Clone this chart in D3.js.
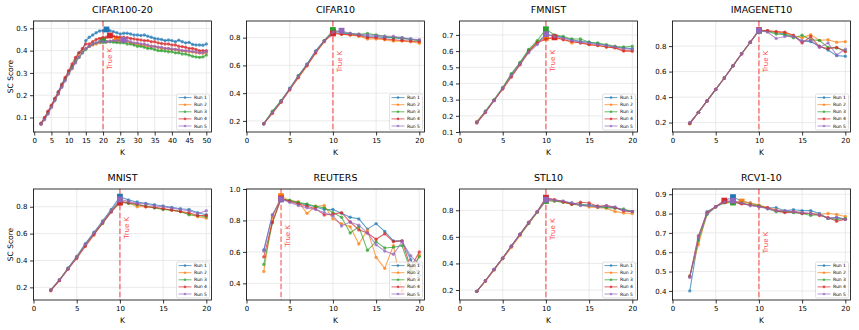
<!DOCTYPE html>
<html><head><meta charset="utf-8">
<script src="https://cdn.jsdelivr.net/npm/d3@7"></script>
<style>
body{margin:0;background:#fff}
svg{display:block}
text{font-family:"DejaVu Sans",sans-serif}
</style>
</head><body>
<svg id="chart" width="859" height="330"></svg>
<script>
// ---------- data ----------
const datasets = ["CIFAR100-20","CIFAR10","FMNIST","IMAGENET10","MNIST","REUTERS","STL10","RCV1-10"];
const trueK = [20,10,10,10,10,4,10,10];
const runLabels = ["Run 1","Run 2","Run 3","Run 4","Run 5"];
const kLarge = d3.range(2,51);   // K = 2..50
const kSmall = d3.range(2,21);   // K = 2..20

const cifar100Runs = [
 [0.073,0.097,0.125,0.152,0.185,0.215,0.25,0.275,0.305,0.33,0.36,0.39,0.40,0.445,0.46,0.47,0.48,0.488,0.49,0.495,0.49,0.485,0.48,0.475,0.478,0.478,0.475,0.47,0.47,0.468,0.47,0.465,0.46,0.455,0.452,0.45,0.445,0.448,0.445,0.44,0.447,0.44,0.435,0.437,0.428,0.425,0.425,0.424,0.43],
 [0.07,0.095,0.12,0.148,0.18,0.205,0.24,0.27,0.30,0.32,0.35,0.375,0.395,0.41,0.42,0.425,0.43,0.435,0.44,0.44,0.442,0.445,0.45,0.445,0.44,0.44,0.435,0.43,0.43,0.425,0.425,0.42,0.42,0.418,0.415,0.41,0.41,0.408,0.405,0.405,0.40,0.40,0.398,0.395,0.395,0.39,0.39,0.388,0.39],
 [0.072,0.093,0.12,0.15,0.18,0.21,0.24,0.27,0.30,0.325,0.35,0.37,0.39,0.405,0.42,0.43,0.435,0.44,0.445,0.44,0.44,0.438,0.436,0.435,0.435,0.43,0.43,0.425,0.42,0.42,0.415,0.41,0.41,0.405,0.40,0.40,0.398,0.395,0.395,0.39,0.39,0.385,0.385,0.38,0.375,0.372,0.37,0.372,0.38],
 [0.074,0.10,0.128,0.155,0.185,0.215,0.245,0.28,0.31,0.34,0.37,0.39,0.41,0.43,0.43,0.44,0.45,0.455,0.46,0.46,0.468,0.465,0.462,0.46,0.46,0.458,0.455,0.452,0.45,0.448,0.445,0.445,0.44,0.44,0.435,0.432,0.43,0.43,0.425,0.425,0.42,0.418,0.415,0.41,0.41,0.405,0.40,0.40,0.40],
 [0.07,0.09,0.115,0.145,0.175,0.205,0.235,0.265,0.295,0.32,0.345,0.37,0.39,0.41,0.42,0.43,0.435,0.44,0.44,0.44,0.442,0.445,0.445,0.447,0.448,0.445,0.44,0.435,0.435,0.43,0.43,0.425,0.42,0.42,0.415,0.415,0.41,0.41,0.408,0.405,0.405,0.40,0.40,0.398,0.395,0.395,0.39,0.392,0.395]
];
const cifar10Runs = [
 [0.18,0.265,0.345,0.435,0.525,0.61,0.705,0.78,0.84,0.83,0.83,0.82,0.81,0.81,0.80,0.80,0.79,0.79,0.78],
 [0.18,0.255,0.335,0.425,0.51,0.595,0.69,0.77,0.835,0.825,0.82,0.81,0.79,0.79,0.785,0.775,0.775,0.77,0.76],
 [0.18,0.27,0.345,0.43,0.525,0.605,0.70,0.775,0.855,0.84,0.83,0.825,0.83,0.82,0.81,0.80,0.80,0.785,0.78],
 [0.18,0.255,0.335,0.425,0.515,0.60,0.69,0.775,0.83,0.825,0.82,0.815,0.80,0.80,0.79,0.785,0.78,0.775,0.77],
 [0.18,0.26,0.34,0.43,0.52,0.605,0.70,0.775,0.84,0.85,0.83,0.825,0.82,0.815,0.81,0.81,0.80,0.79,0.785]
];
const fmnistRuns = [
 [0.16,0.225,0.295,0.37,0.455,0.525,0.605,0.655,0.70,0.695,0.685,0.67,0.66,0.655,0.645,0.635,0.625,0.62,0.615],
 [0.165,0.225,0.295,0.37,0.445,0.52,0.60,0.655,0.682,0.678,0.675,0.65,0.655,0.64,0.635,0.625,0.62,0.605,0.60],
 [0.16,0.23,0.30,0.375,0.46,0.53,0.61,0.665,0.735,0.70,0.69,0.675,0.675,0.655,0.65,0.64,0.63,0.625,0.63],
 [0.155,0.22,0.295,0.365,0.44,0.515,0.595,0.65,0.675,0.685,0.67,0.66,0.65,0.64,0.635,0.625,0.62,0.60,0.60],
 [0.16,0.225,0.295,0.37,0.45,0.52,0.59,0.64,0.705,0.69,0.68,0.665,0.655,0.65,0.64,0.635,0.625,0.615,0.61]
];
const imagenet10Runs = [
 [0.195,0.28,0.37,0.46,0.55,0.645,0.74,0.83,0.922,0.918,0.905,0.895,0.875,0.84,0.835,0.80,0.77,0.725,0.72],
 [0.195,0.28,0.37,0.46,0.55,0.645,0.74,0.83,0.924,0.92,0.91,0.905,0.88,0.865,0.89,0.845,0.85,0.83,0.835],
 [0.195,0.28,0.37,0.46,0.55,0.645,0.74,0.83,0.921,0.915,0.895,0.89,0.865,0.885,0.85,0.845,0.79,0.785,0.765],
 [0.19,0.28,0.37,0.46,0.55,0.645,0.74,0.83,0.925,0.92,0.915,0.91,0.885,0.825,0.875,0.795,0.78,0.79,0.755],
 [0.20,0.28,0.37,0.46,0.55,0.645,0.74,0.83,0.923,0.91,0.86,0.875,0.875,0.84,0.845,0.79,0.825,0.73,0.775]
];
const mnistRuns = [
 [0.18,0.255,0.345,0.43,0.525,0.61,0.695,0.78,0.875,0.85,0.835,0.825,0.815,0.805,0.795,0.785,0.78,0.755,0.74],
 [0.18,0.255,0.34,0.425,0.515,0.60,0.685,0.77,0.845,0.83,0.80,0.80,0.795,0.785,0.775,0.765,0.745,0.725,0.715],
 [0.18,0.255,0.34,0.425,0.515,0.60,0.675,0.765,0.84,0.825,0.815,0.805,0.79,0.78,0.775,0.765,0.74,0.735,0.725],
 [0.175,0.25,0.335,0.415,0.505,0.59,0.68,0.76,0.83,0.83,0.82,0.80,0.795,0.785,0.775,0.765,0.755,0.735,0.735],
 [0.18,0.255,0.34,0.425,0.52,0.605,0.685,0.77,0.855,0.84,0.825,0.82,0.805,0.80,0.79,0.78,0.77,0.75,0.77]
];
const reutersRuns = [
 [0.612,0.835,0.935,0.925,0.91,0.90,0.885,0.87,0.87,0.845,0.82,0.81,0.745,0.78,0.73,0.67,0.67,0.55,0.45],
 [0.475,0.82,0.955,0.925,0.92,0.845,0.89,0.895,0.81,0.78,0.76,0.65,0.74,0.565,0.495,0.64,0.35,0.45,0.58],
 [0.52,0.785,0.935,0.928,0.915,0.905,0.89,0.88,0.85,0.82,0.72,0.76,0.61,0.665,0.625,0.63,0.64,0.48,0.57],
 [0.568,0.79,0.94,0.92,0.905,0.89,0.875,0.835,0.84,0.85,0.79,0.74,0.72,0.68,0.715,0.665,0.67,0.50,0.60],
 [0.606,0.835,0.935,0.915,0.895,0.88,0.87,0.85,0.83,0.765,0.79,0.77,0.72,0.645,0.605,0.585,0.665,0.575,0.52]
];
const stl10Runs = [
 [0.19,0.27,0.355,0.44,0.53,0.62,0.705,0.79,0.885,0.875,0.865,0.855,0.845,0.84,0.83,0.825,0.82,0.80,0.79],
 [0.19,0.265,0.35,0.435,0.52,0.61,0.70,0.785,0.875,0.87,0.86,0.845,0.84,0.825,0.82,0.815,0.79,0.78,0.775],
 [0.19,0.27,0.355,0.44,0.53,0.615,0.70,0.785,0.87,0.87,0.86,0.845,0.84,0.835,0.825,0.82,0.815,0.81,0.79],
 [0.19,0.27,0.355,0.44,0.53,0.62,0.71,0.79,0.895,0.88,0.865,0.845,0.86,0.855,0.83,0.835,0.82,0.795,0.79],
 [0.19,0.27,0.355,0.44,0.53,0.62,0.705,0.79,0.88,0.875,0.87,0.855,0.835,0.835,0.825,0.835,0.825,0.80,0.79]
];
const rcv1Runs = [
 [0.40,0.67,0.81,0.835,0.865,0.885,0.865,0.855,0.84,0.83,0.83,0.815,0.82,0.815,0.815,0.80,0.775,0.78,0.77],
 [0.478,0.64,0.80,0.835,0.86,0.858,0.862,0.855,0.845,0.83,0.82,0.81,0.81,0.805,0.80,0.795,0.80,0.795,0.785],
 [0.475,0.66,0.795,0.835,0.855,0.857,0.855,0.845,0.84,0.825,0.81,0.81,0.805,0.80,0.79,0.795,0.775,0.77,0.775],
 [0.474,0.685,0.805,0.835,0.867,0.86,0.85,0.845,0.835,0.83,0.815,0.805,0.81,0.80,0.80,0.79,0.78,0.76,0.77],
 [0.469,0.68,0.80,0.835,0.86,0.867,0.855,0.84,0.835,0.825,0.815,0.815,0.81,0.805,0.80,0.795,0.775,0.78,0.77]
];
const allRuns = [cifar100Runs,cifar10Runs,fmnistRuns,imagenet10Runs,mnistRuns,reutersRuns,stl10Runs,rcv1Runs];
const kValues = [kLarge,kSmall,kSmall,kSmall,kSmall,kSmall,kSmall,kSmall];

// axis ranges and tick labels
const yRanges = [[0.035,0.533],[0.12,0.92],[0.1,0.786],[0.126,0.997],[0.106,0.932],[0.294,1.0],[0.125,0.96],[0.353,0.927]];
const yTickValues = [
 [0.1,0.2,0.3,0.4,0.5],[0.2,0.4,0.6,0.8],[0.1,0.2,0.3,0.4,0.5,0.6,0.7],[0.2,0.4,0.6,0.8],
 [0.2,0.4,0.6,0.8],[0.4,0.6,0.8,1.0],[0.2,0.4,0.6,0.8],[0.4,0.5,0.6,0.7,0.8,0.9]
];
const xTicksLarge = [0,5,10,15,20,25,30,35,40,45,50];
const xTicksSmall = [0,5,10,15,20];

// ---------- style / layout ----------
const runColors = ["#1f77b4","#ff7f0e","#2ca02c","#d62728","#9467bd"];
const W = 178, H = 111;
const colLeft = c => 33.5 + c*213;
const rowTop = r => [21,189][r];

const svg = d3.select("#chart");
svg.append("rect").attr("width",859).attr("height",330).attr("fill","#fff");

datasets.forEach((name,i) => {
  const col = i%4, row = Math.floor(i/4);
  const x0 = colLeft(col), y0 = rowTop(row);
  const ks = kValues[i], runs = allRuns[i];
  const kMax = d3.max(ks);
  const xs = d3.scaleLinear().domain([i===0 ? -0.2 : 0, kMax*1.03]).range([0,W]);
  const ys = d3.scaleLinear().domain(yRanges[i]).range([H,0]);
  const xt = i===0 ? xTicksLarge : xTicksSmall;
  const yt = yTickValues[i];

  const g = svg.append("g").attr("transform",`translate(${x0},${y0})`);
  const clipId = "clip"+i;
  g.append("clipPath").attr("id",clipId).append("rect").attr("width",W).attr("height",H);

  // grid
  const grid = g.append("g");
  grid.selectAll("line.gx").data(xt).join("line")
    .attr("x1",d=>xs(d)).attr("x2",d=>xs(d)).attr("y1",0).attr("y2",H)
    .attr("stroke","#e4e4e4").attr("stroke-width",0.8);
  grid.selectAll("line.gy").data(yt).join("line")
    .attr("x1",0).attr("x2",W).attr("y1",d=>ys(d)).attr("y2",d=>ys(d))
    .attr("stroke","#e4e4e4").attr("stroke-width",0.8);

  // true K line
  g.append("line")
    .attr("x1",xs(trueK[i])).attr("x2",xs(trueK[i])).attr("y1",0).attr("y2",H)
    .attr("stroke","#ff0000").attr("stroke-opacity",0.5).attr("stroke-width",1.5)
    .attr("stroke-dasharray","5.5,2.4");

  const plot = g.append("g").attr("clip-path",`url(#${clipId})`);
  const line = d3.line().x((d,j)=>xs(ks[j])).y(d=>ys(d));
  runs.forEach((vals,r) => {
    const rg = plot.append("g");
    rg.append("path").datum(vals).attr("d",line)
      .attr("fill","none").attr("stroke",runColors[r]).attr("stroke-width",1.1)
      .attr("stroke-opacity",0.7);
    rg.selectAll("circle").data(vals).join("circle")
      .attr("cx",(d,j)=>xs(ks[j])).attr("cy",d=>ys(d)).attr("r",1.7)
      .attr("fill",runColors[r]).attr("fill-opacity",0.7);
    const mi = d3.maxIndex(vals);
    const s = 5.8;
    rg.append("rect")
      .attr("x",xs(ks[mi])-s/2).attr("y",ys(vals[mi])-s/2)
      .attr("width",s).attr("height",s).attr("fill",runColors[r]);
  });

  // True K label
  const allMax = d3.max(runs, v=>d3.max(v));
  const ty = ys(0.735*allMax);
  g.append("text")
    .attr("transform",`translate(${xs(trueK[i])+9},${ty}) rotate(-90)`)
    .attr("text-anchor","middle").attr("font-size",7).attr("fill","#ff0000")
    .attr("fill-opacity",0.75)
    .text("True K");

  // axes
  const ax = g.append("g").attr("transform",`translate(0,${H})`)
    .call(d3.axisBottom(xs).tickValues(xt).tickFormat(d3.format("d")).tickSize(3.5).tickPadding(2.5));
  const ay = g.append("g")
    .call(d3.axisLeft(ys).tickValues(yt).tickFormat(d3.format(".1f")).tickSize(3.5).tickPadding(2.5));
  [ax,ay].forEach(a=>{
    a.select(".domain").remove();
    a.selectAll(".tick line").attr("stroke","#000").attr("stroke-width",0.8);
    a.selectAll(".tick text").attr("font-size",7).attr("fill","#000")
      .attr("font-family","DejaVu Sans, sans-serif");
  });

  // spines
  g.append("rect").attr("width",W).attr("height",H)
    .attr("fill","none").attr("stroke","#000").attr("stroke-width",0.8);

  // title
  g.append("text").attr("x",W/2).attr("y",-7.6).attr("text-anchor","middle")
    .attr("font-size",9.5).attr("fill","#000").text(name);
  // x label
  g.append("text").attr("x",W/2).attr("y",H+22.5).attr("text-anchor","middle")
    .attr("font-size",7.5).attr("fill","#000").text("K");
  // y label
  if (col===0) {
    g.append("text").attr("transform",`translate(${12.7-x0},${H/2}) rotate(-90)`)
      .attr("text-anchor","middle").attr("font-size",7.5).attr("fill","#000").text("SC Score");
  }

  // legend
  const lw = 33, lh = 36;
  const lg = g.append("g").attr("transform",`translate(${W-2-lw},${H-2-lh})`);
  lg.append("rect").attr("width",lw).attr("height",lh).attr("rx",1.5)
    .attr("fill","#fff").attr("fill-opacity",0.8).attr("stroke","#cccccc").attr("stroke-width",0.6);
  runLabels.forEach((lab,r)=>{
    const yy = 3.6 + r*7.1;
    lg.append("line").attr("x1",2).attr("x2",15).attr("y1",yy).attr("y2",yy)
      .attr("stroke",runColors[r]).attr("stroke-width",1).attr("stroke-opacity",0.7);
    lg.append("circle").attr("cx",8.5).attr("cy",yy).attr("r",1.3)
      .attr("fill",runColors[r]).attr("fill-opacity",0.7);
    lg.append("text").attr("x",17.5).attr("y",yy).attr("dy","0.35em")
      .attr("font-size",4.5).attr("fill","#000").text(lab);
  });
});
</script>
</body></html>
